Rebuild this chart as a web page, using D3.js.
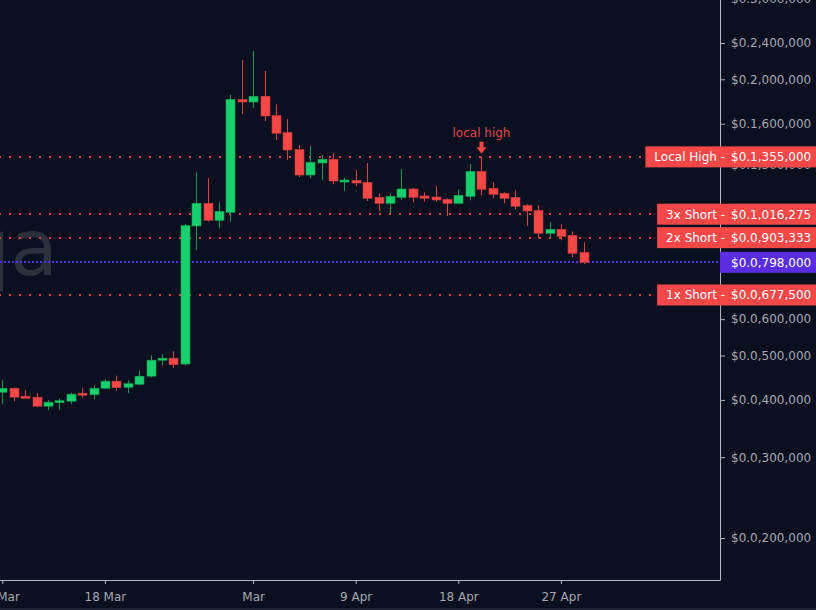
<!DOCTYPE html>
<html>
<head>
<meta charset="utf-8">
<script src="https://cdn.jsdelivr.net/npm/d3@7"></script>
<style>
html, body { margin: 0; padding: 0; background: #0a101f; overflow: hidden; }
svg { display: block; font-family: "DejaVu Sans", sans-serif; }
</style>
</head>
<body>
<script>
// daily candles, 9 Mar -> 29 Apr
var days = ["2024-03-09","2024-03-10","2024-03-11","2024-03-12","2024-03-13","2024-03-14","2024-03-15",
  "2024-03-16","2024-03-17","2024-03-18","2024-03-19","2024-03-20","2024-03-21","2024-03-22","2024-03-23",
  "2024-03-24","2024-03-25","2024-03-26","2024-03-27","2024-03-28","2024-03-29","2024-03-30","2024-03-31",
  "2024-04-01","2024-04-02","2024-04-03","2024-04-04","2024-04-05","2024-04-06","2024-04-07","2024-04-08",
  "2024-04-09","2024-04-10","2024-04-11","2024-04-12","2024-04-13","2024-04-14","2024-04-15","2024-04-16",
  "2024-04-17","2024-04-18","2024-04-19","2024-04-20","2024-04-21","2024-04-22","2024-04-23","2024-04-24",
  "2024-04-25","2024-04-26","2024-04-27","2024-04-28","2024-04-29"];

var opens = [415800, 424200, 407500, 405500, 387600, 395400, 397400, 413700, 410600, 424200,
  439400, 426300, 432800, 450600, 488300, 493200, 479000, 957800, 1073300, 985600,
  1025900, 1807300, 1784700, 1836600, 1667700, 1531300, 1406200, 1237100, 1314100, 1338700,
  1200400, 1204600, 1192700, 1106100, 1073300, 1106100, 1153200, 1113500, 1107900, 1095100,
  1073300, 1111700, 1260300, 1157300, 1128500, 1106100, 1062600, 1036300, 923300, 942000,
  914100, 839300];
var highs = [441600, 425300, 420000, 413700, 399400, 402400, 414800, 425300, 430700, 443800,
  451700, 441600, 463200, 500700, 502500, 510800, 967400, 1254000, 1216700, 1078800,
  1848600, 2203500, 2305300, 2085200, 1764300, 1638600, 1438300, 1431100, 1367900, 1379600,
  1220400, 1268500, 1314100, 1128500, 1128500, 1274900, 1159000, 1134300, 1170600, 1100600,
  1151500, 1307500, 1356300, 1192700, 1134300, 1145700, 1068000, 1062600, 975700, 966000,
  932600, 882500];
var lows = [391500, 397400, 404500, 385600, 379800, 380800, 391500, 404500, 401400, 422100,
  419000, 413700, 430700, 448300, 476200, 470300, 475400, 847700, 978700, 946800,
  978700, 1680300, 1731700, 1622300, 1474800, 1334000, 1224700, 1216700, 1204600, 1180800,
  1143500, 1168900, 1085800, 1032600, 1022300, 1091300, 1078800, 1082000, 1082000, 1007000,
  1072200, 1089700, 1117300, 1100600, 1073300, 1041500, 957800, 900400, 905000, 891400,
  818500, 791500];
var closes = [424200, 405500, 405500, 387600, 395400, 398400, 411600, 411600, 424200, 439400,
  425300, 433900, 450600, 488300, 493200, 477400, 960100, 1073300, 985600, 1031100,
  1809100, 1784700, 1836600, 1663500, 1525200, 1402600, 1237100, 1318700, 1338700, 1200400,
  1206400, 1188500, 1100600, 1073300, 1111700, 1153200, 1106100, 1100600, 1091300, 1073300,
  1117300, 1260300, 1151500, 1122900, 1100600, 1057300, 1032600, 923300, 942000, 909500,
  835100, 798000];

var levelNames = ["Local High", "3x Short", "2x Short", "1x Short"];
var levelValues = [1355000, 1016275, 903333, 677500];
var lastPrice = 798000;

var yTicks = [200000, 300000, 400000, 500000, 600000, 1300000, 1600000, 2000000, 2400000, 3000000];
var xTickDays = ["2024-03-09", "2024-03-18", "2024-03-31", "2024-04-09", "2024-04-18", "2024-04-27"];
var xTickLabels = ["9 Mar", "18 Mar", "Mar", "9 Apr", "18 Apr", "27 Apr"];

var annotIndex = 42;
var annotText = "local high";

var W = 816, H = 610, plotR = 720, plotB = 580;
var upCol = "#17cf6c", upEdge = "#10a455", upWick = "#129a52";
var dnCol = "#f44848", dnEdge = "#c93b3b", dnWick = "#d94444";
var axisCol = "#b2b5be", textCol = "#a5a8b1";

var parse = d3.utcParse("%Y-%m-%d");
var data = days.map(function(d, i) {
  return { date: parse(d), o: opens[i], h: highs[i], l: lows[i], c: closes[i] };
});

var x = d3.scaleUtc()
  .domain([data[0].date, data[data.length - 1].date])
  .range([2.3, 583.7]);
var y = d3.scaleLog().domain([200000, 2400000]).range([538, 43]);

function fmtPrice(v) {
  var s = String(Math.round(v)).padStart(7, "0");
  return "$0." + s[0] + "," + s.slice(1, 4) + "," + s.slice(4);
}

var svg = d3.select("body").append("svg")
  .attr("width", W)
  .attr("height", H);

svg.append("rect").attr("width", W).attr("height", H).attr("fill", "#0a101f");
svg.append("rect").attr("y", 608).attr("width", W).attr("height", 2).attr("fill", "#1d2130");

svg.append("clipPath").attr("id", "plot")
  .append("rect").attr("width", plotR).attr("height", plotB);

var plot = svg.append("g").attr("clip-path", "url(#plot)");

// watermark
plot.append("text")
  .attr("x", 58)
  .attr("y", 275)
  .attr("text-anchor", "end")
  .style("font-size", "78px")
  .attr("fill", "#2c303c")
  .text("qa");

// dotted levels
plot.selectAll(".lvl")
  .data(levelValues)
  .enter().append("line")
  .attr("class", "lvl")
  .attr("x1", -1).attr("x2", plotR)
  .attr("y1", function(d) { return Math.round(y(d)); })
  .attr("y2", function(d) { return Math.round(y(d)); })
  .attr("stroke", "#dc4646")
  .attr("stroke-width", 2)
  .attr("stroke-dasharray", "2,8");

plot.append("line")
  .attr("x1", 0).attr("x2", plotR)
  .attr("y1", Math.round(y(lastPrice))).attr("y2", Math.round(y(lastPrice)))
  .attr("stroke", "#5733d8")
  .attr("stroke-width", 2)
  .attr("stroke-dasharray", "2,2");

// candles
var candle = plot.selectAll(".candle")
  .data(data)
  .enter().append("g")
  .attr("class", "candle");

candle.append("line")
  .attr("x1", function(d) { return Math.round(x(d.date)) + 0.5; })
  .attr("x2", function(d) { return Math.round(x(d.date)) + 0.5; })
  .attr("y1", function(d) { return y(d.h); })
  .attr("y2", function(d) { return y(d.l); })
  .attr("stroke", function(d) { return d.c >= d.o ? upWick : dnWick; })
  .attr("stroke-width", 1);

candle.append("rect")
  .attr("x", function(d) { return Math.round(x(d.date)) - 4; })
  .attr("width", 9)
  .attr("y", function(d) { return y(Math.max(d.o, d.c)); })
  .attr("height", function(d) { return Math.max(2, y(Math.min(d.o, d.c)) - y(Math.max(d.o, d.c))); })
  .attr("fill", function(d) { return d.c >= d.o ? upCol : dnCol; })
  .attr("stroke", function(d) { return d.c >= d.o ? upEdge : dnEdge; })
  .attr("stroke-width", 0.6);

// local high annotation
var ad = data[annotIndex];
var ax = Math.round(x(ad.date)) + 0.5, ay = y(ad.h);
plot.append("text")
  .attr("x", ax)
  .attr("y", ay - 20)
  .attr("text-anchor", "middle")
  .style("font-size", "12px")
  .attr("fill", "#e2474c")
  .text(annotText);
plot.append("rect")
  .attr("x", ax - 2).attr("y", ay - 15).attr("width", 4).attr("height", 6)
  .attr("fill", dnCol);
plot.append("path")
  .attr("d", "M" + (ax - 5) + "," + (ay - 9.5) + "L" + (ax + 5) + "," + (ay - 9.5) + "L" + ax + "," + (ay - 3) + "Z")
  .attr("fill", dnCol);

// axes
var yAxis = d3.axisRight(y).tickValues(yTicks).tickFormat(fmtPrice).tickSize(5).tickPadding(6);
var gy = svg.append("g")
  .attr("transform", "translate(" + plotR + ",0)")
  .call(yAxis);
gy.select(".domain").remove();
gy.selectAll("line").attr("stroke", axisCol);
gy.selectAll("text").attr("fill", textCol).style("font-size", "12px").style("font-family", "DejaVu Sans");

var xAxis = d3.axisBottom(x)
  .tickValues(xTickDays.map(parse))
  .tickFormat(function(d, i) { return xTickLabels[i]; })
  .tickSize(4).tickPadding(8);
var gx = svg.append("g")
  .attr("transform", "translate(0," + plotB + ")")
  .call(xAxis);
gx.select(".domain").remove();
gx.selectAll("line").attr("stroke", axisCol);
gx.selectAll("text").attr("fill", textCol).style("font-size", "12px").style("font-family", "DejaVu Sans");

svg.append("line")
  .attr("x1", plotR + 0.5).attr("x2", plotR + 0.5)
  .attr("y1", 0).attr("y2", plotB + 0.5)
  .attr("stroke", axisCol);
svg.append("line")
  .attr("x1", 0).attr("x2", plotR + 0.5)
  .attr("y1", plotB + 0.5).attr("y2", plotB + 0.5)
  .attr("stroke", axisCol);

// price labels on the right: name ends just left of the axis, price starts after it
var tags = svg.selectAll(".tag")
  .data(levelValues)
  .enter().append("g")
  .attr("class", "tag")
  .attr("transform", function(d) { return "translate(0," + y(d) + ")"; });

tags.append("rect").attr("class", "bg");
tags.append("text")
  .attr("class", "name")
  .attr("x", 725)
  .attr("dy", "0.36em")
  .attr("text-anchor", "end")
  .style("font-size", "12px")
  .attr("fill", "#ffffff")
  .text(function(d, i) { return levelNames[i] + " -"; });
tags.append("text")
  .attr("x", 731)
  .attr("dy", "0.36em")
  .style("font-size", "12px")
  .attr("fill", "#ffffff")
  .text(function(d) { return fmtPrice(d); });

tags.each(function() {
  var g = d3.select(this);
  var len = g.select(".name").node().getComputedTextLength();
  var left = 725 - len - 9;
  g.select("rect")
    .attr("x", left)
    .attr("y", -10.5)
    .attr("width", W - left)
    .attr("height", 21)
    .attr("fill", dnCol);
});

var last = svg.append("g").attr("transform", "translate(0," + y(lastPrice) + ")");
last.append("rect")
  .attr("x", plotR).attr("y", -10.5)
  .attr("width", W - plotR).attr("height", 21)
  .attr("fill", "#5a2de0");
last.append("text")
  .attr("x", 731)
  .attr("dy", "0.36em")
  .style("font-size", "12px")
  .attr("fill", "#ffffff")
  .text(fmtPrice(lastPrice));
</script>
</body>
</html>
